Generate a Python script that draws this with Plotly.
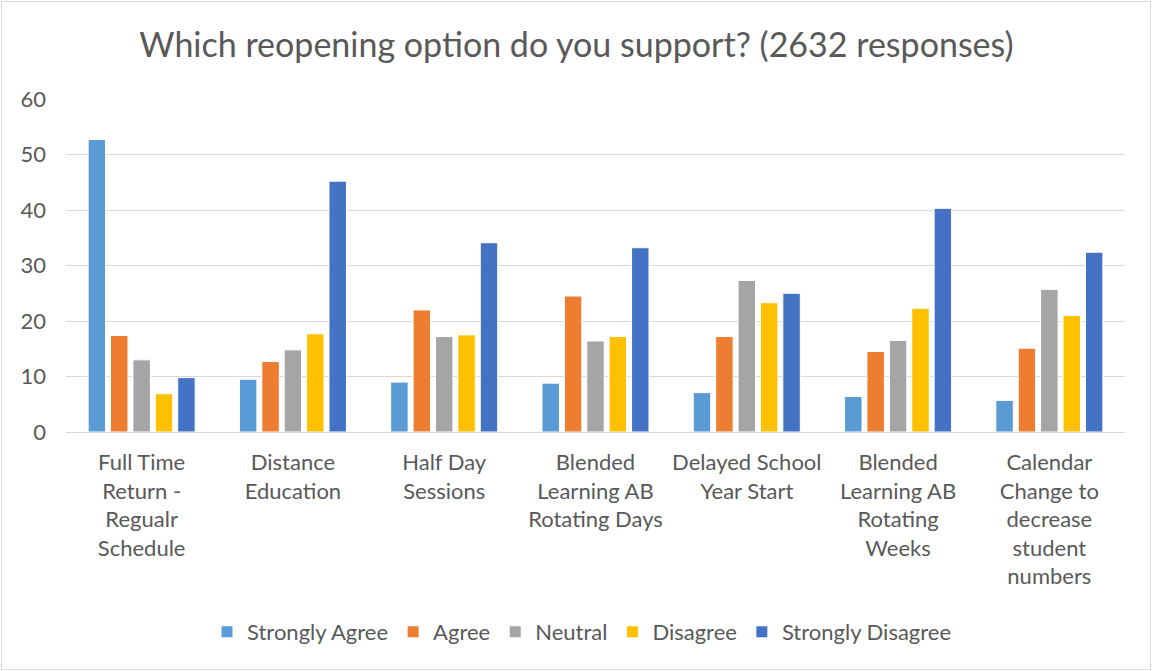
import plotly.graph_objects as go

categories = [
    "Full Time<br>Return -<br>Regualr<br>Schedule",
    "Distance<br>Education",
    "Half Day<br>Sessions",
    "Blended<br>Learning AB<br>Rotating Days",
    "Delayed School<br>Year Start",
    "Blended<br>Learning AB<br>Rotating<br>Weeks",
    "Calendar<br>Change to<br>decrease<br>student<br>numbers",
]
strongly_agree = [52.7, 9.5, 9.0, 8.8, 7.1, 6.4, 5.7]
agree = [17.4, 12.7, 22.0, 24.5, 17.2, 14.5, 15.1]
neutral = [13.0, 14.8, 17.2, 16.4, 27.3, 16.5, 25.7]
disagree = [6.9, 17.7, 17.5, 17.2, 23.3, 22.3, 21.0]
strongly_disagree = [9.8, 45.2, 34.1, 33.2, 25.0, 40.3, 32.4]

series = [
    ("Strongly Agree", strongly_agree, "#5B9BD5"),
    ("Agree", agree, "#ED7D31"),
    ("Neutral", neutral, "#A5A5A5"),
    ("Disagree", disagree, "#FFC000"),
    ("Strongly Disagree", strongly_disagree, "#4472C4"),
]

FONT = "Lato"
GREY = "#595959"

fig = go.Figure()
x_idx = list(range(len(categories)))
for name, vals, col in series:
    fig.add_trace(go.Bar(
        x=x_idx, y=vals, name=name,
        marker=dict(color=col, line=dict(color="white", width=1)),
    ))

W, H = 1153, 671
ml, mr, mt, mb = 66, 28, 99, 239
pw, ph = W - ml - mr, H - mt - mb

fig.update_layout(
    width=W, height=H,
    margin=dict(l=ml, r=mr, t=mt, b=mb),
    paper_bgcolor="white", plot_bgcolor="white",
    barmode="group", bargap=0.26, bargroupgap=0.22,
    font=dict(family=FONT, size=22, color=GREY),
    title=dict(text="Which reopening option do you support? (2632 responses)",
               x=0.5, xanchor="center", y=1 - 45 / H, yanchor="middle",
               font=dict(family=FONT, size=34, color=GREY)),
    showlegend=True,
    legend=dict(orientation="h", x=(582 - ml) / pw, xanchor="center",
                y=-(632 - (mt + ph)) / ph, yanchor="middle",
                font=dict(family=FONT, size=22, color=GREY),
                itemwidth=30, traceorder="normal"),
    xaxis=dict(tickmode="array", tickvals=x_idx, ticktext=categories,
               range=[-0.5, len(categories) - 0.5],
               showgrid=False, zeroline=False, showline=False,
               ticklabelstandoff=15,
               tickfont=dict(family=FONT, size=22, color=GREY), ticks=""),
    yaxis=dict(range=[0, 60], dtick=10, showgrid=True, gridcolor="#D9D9D9",
               gridwidth=1, zeroline=True, zerolinecolor="#D9D9D9",
               zerolinewidth=1, showline=False, ticks="",
               ticklabelstandoff=19,
               tickfont=dict(family=FONT, size=22, color=GREY)),
    shapes=[dict(type="rect", xref="paper", yref="paper",
                 x0=-(ml - 1.5) / pw, x1=1 + (mr - 2.5) / pw,
                 y0=-(mb - 1.5) / ph, y1=1 + (mt - 1.5) / ph,
                 line=dict(color="#D9D9D9", width=1), fillcolor="rgba(0,0,0,0)")],
)

fig.write_html("out.html", config={"displayModeBar": False},
               post_script="document.body.style.margin='0';document.body.style.padding='0';")
